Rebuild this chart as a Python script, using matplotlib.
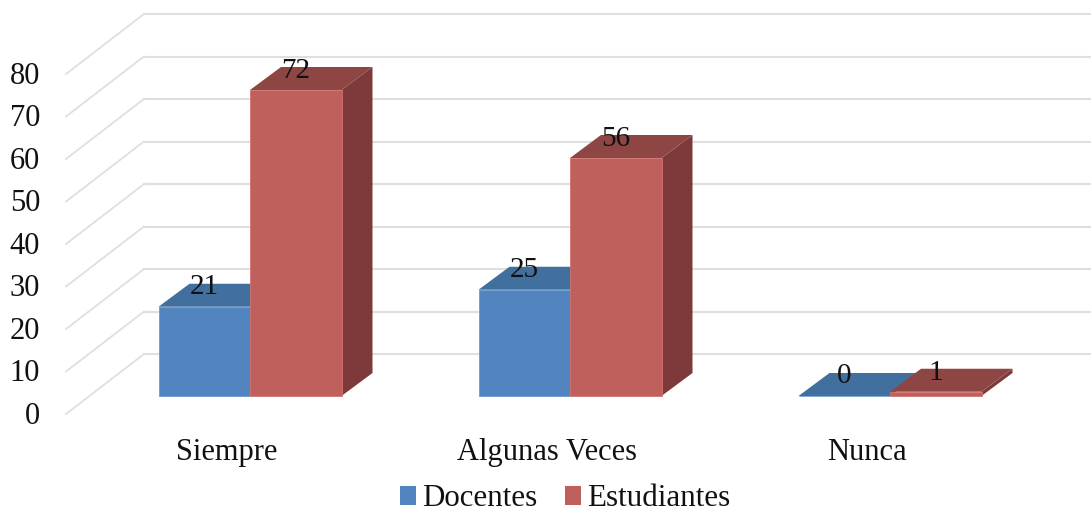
import numpy as np
import matplotlib.pyplot as plt
from matplotlib.patches import Polygon, Rectangle

categories = ['Siempre', 'Algunas Veces', 'Nunca']
docentes = [21, 25, 0]
estudiantes = [72, 56, 1]
y_ticks = [0, 10, 20, 30, 40, 50, 60, 70, 80]

plt.rcParams['font.family'] = ['Liberation Serif', 'DejaVu Serif']

W, H = 1091, 508
PX_X = 320.0   # pixels per category
PX_Y = 4.25    # pixels per value unit
X0, Y0 = 250, 396

fig = plt.figure(figsize=(W / 100, H / 100), dpi=100)
ax = fig.add_axes([0, 0, 1, 1])
ax.set_xlim(-X0 / PX_X, (W - X0) / PX_X)
ax.set_ylim(-(H - Y0) / PX_Y, Y0 / PX_Y)
ax.axis('off')

bar_w = 91.5 / PX_X
dep_x, dep_y = 31 / PX_X, 23 / PX_Y

# back wall and side wall grid
grid_col = '#dfdfdf'
wall_lo = (396 - 354) / PX_Y
side_lo = (396 - 414) / PX_Y
x_back = (144 - X0) / PX_X
x_front = (66 - X0) / PX_X
for t in y_ticks:
    ax.plot([x_front, x_back], [side_lo + t, wall_lo + t], color=grid_col, lw=1.3, zorder=1)
    ax.plot([x_back, (W - X0) / PX_X], [wall_lo + t, wall_lo + t], color=grid_col, lw=1.5, zorder=1)
    ax.text((40 - X0) / PX_X, side_lo + t - 0.5, str(t), ha='right', va='center', fontsize=22, color='#111111')


def draw_bar(x, v, front, top, side, edge):
    ax.add_patch(Polygon([(x + bar_w, 0), (x + bar_w + dep_x, dep_y), (x + bar_w + dep_x, v + dep_y), (x + bar_w, v)],
                         fc=side, ec='none', zorder=3))
    ax.add_patch(Polygon([(x, v), (x + dep_x, v + dep_y), (x + bar_w + dep_x, v + dep_y), (x + bar_w, v)],
                         fc=top, ec='none', zorder=3))
    ax.add_patch(Rectangle((x, 0), bar_w, v, fc=front, ec=edge, lw=0.6, zorder=4))


for i in range(len(categories)):
    draw_bar(i - bar_w, docentes[i], '#5285c0', '#41709e', '#3b6690', '#6a9ad0')
    draw_bar(i, estudiantes[i], '#c0605c', '#8e4645', '#7e3a3b', '#d07470')
    ax.text(i - bar_w / 2, docentes[i] + 4.7, str(docentes[i]), ha='center', va='center', fontsize=21, color='#111111', zorder=6)
    ax.text(i + bar_w / 2, estudiantes[i] + 4.5, str(estudiantes[i]), ha='center', va='center', fontsize=21, color='#111111', zorder=6)
    ax.text(i - 0.073, -13.3, categories[i], ha='center', va='center', fontsize=22, color='#111111')

# legend
handles = [Rectangle((0, 0), 1, 1, fc='#5285c0'), Rectangle((0, 0), 1, 1, fc='#c0605c')]
fig.legend(handles, ['Docentes', 'Estudiantes'], loc='center', bbox_to_anchor=(565 / W, 1 - 499 / H),
           ncol=2, frameon=False, fontsize=22.3, handlelength=0.52, handleheight=0.52,
           handletextpad=0.2, columnspacing=0.9, labelcolor='#111111')

fig.savefig('out.png', dpi=100)
